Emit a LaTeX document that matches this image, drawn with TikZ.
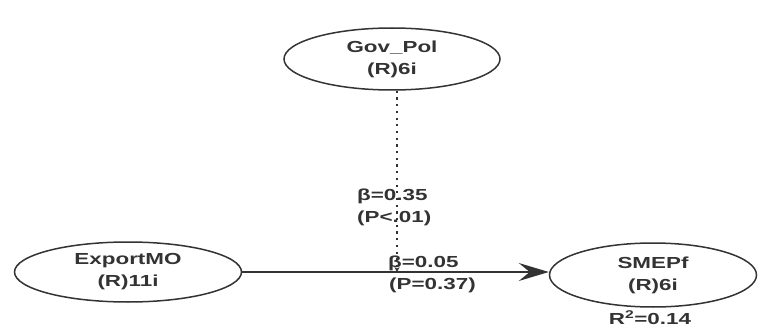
\documentclass[tikz,border=0pt]{standalone}
\usepackage{fontspec}
\setmainfont{Liberation Sans}[FakeStretch=1.4]
\usetikzlibrary{arrows.meta,shapes.geometric}
\definecolor{ink}{HTML}{333333}
\begin{document}
\begin{tikzpicture}[x=1pt,y=-1pt,
  lv/.style={draw=ink,line width=1.5pt,ellipse,inner sep=0pt,align=center,text=ink,
    font=\fontsize{16}{22}\selectfont\bfseries},
  lbl/.style={text=ink,anchor=west,inner sep=0pt,font=\fontsize{16}{20}\selectfont\bfseries},
  path/.style={draw=ink,line width=1.5pt},
  modpath/.style={draw=ink,line width=2.2pt,dash pattern=on 2.2pt off 4.5pt}]
\useasboundingbox (0,0) rectangle (777,329);
\node[lv,minimum width=216pt,minimum height=62pt] (gov) at (392,59) {Gov\_Pol\\(R)6i};
\node[lv,minimum width=227pt,minimum height=60pt] (exp) at (128,272) {ExportMO\\(R)11i};
\node[lv,minimum width=207pt,minimum height=64pt] (sme) at (653,275) {SMEPf\\(R)6i};
\node[text=ink,inner sep=0pt,font=\fontsize{16}{20}\selectfont\bfseries] (r2) at (650,318) {R\textsuperscript{2}=0.14};
\coordinate (hit) at (397,272);
\draw[path,-{Stealth[length=30pt,width=18pt,inset=11pt]}] (exp.east) -- (exp.east -| sme.west);
\draw[modpath,-{Stealth[length=5pt,width=5pt]}] (gov.south -| hit) -- (hit);
\node[lbl] (b1) at (357,196) {β=0.35};
\node[lbl] (p1) at (357,218) {(P<.01)};
\node[lbl] (b2) at (388,263) {β=0.05};
\node[lbl] (p2) at (389,285) {(P=0.37)};
\end{tikzpicture}
\end{document}
